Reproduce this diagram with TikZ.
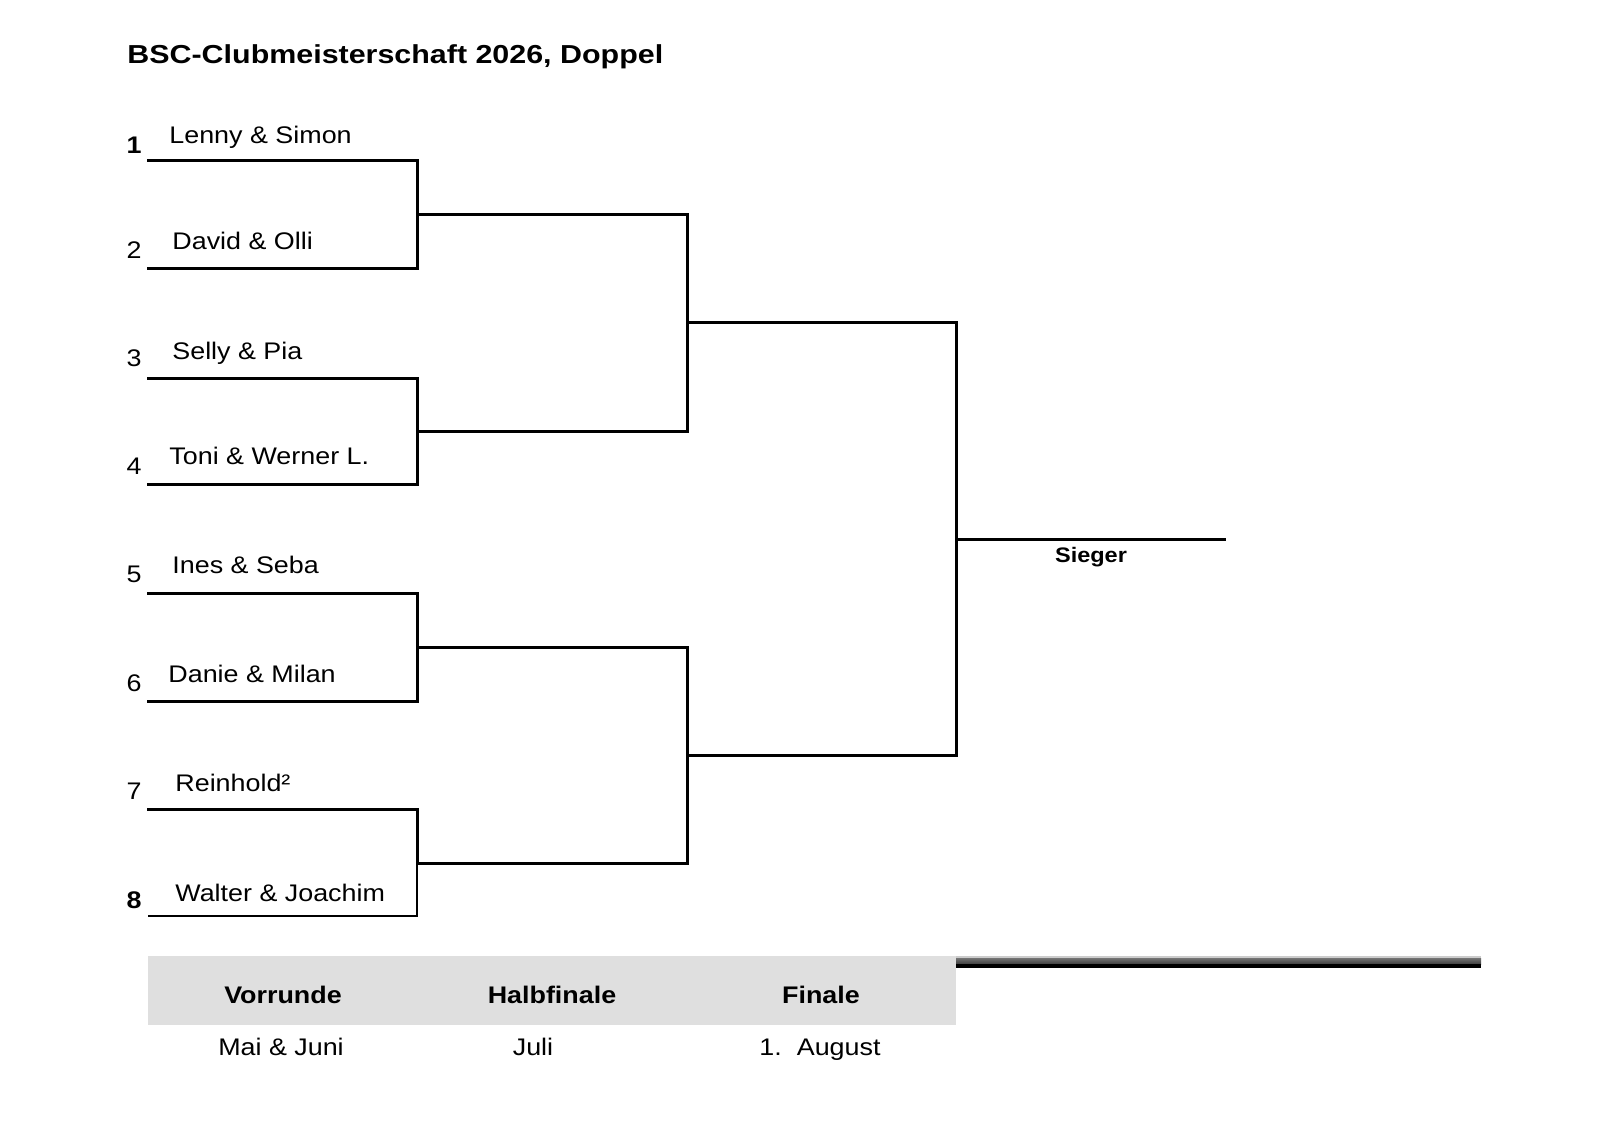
\documentclass[tikz,border=0pt]{standalone}
\usepackage{fontspec}
\setmainfont{Liberation Sans}[FakeStretch=1.12]
\newfontfamily\titlefont{Liberation Sans}[FakeStretch=1.17]
\begin{document}
\begin{tikzpicture}[x=0.5pt,y=-0.5pt,
  bline/.style={line width=1.5pt,line cap=rect},
  tline/.style={line width=0.75pt},
  nametxt/.style={anchor=base west,inner sep=0pt,font=\fontsize{12}{14}\selectfont},
  numtxt/.style={anchor=base,inner sep=0pt,font=\fontsize{12}{14}\selectfont},
  numbold/.style={numtxt,font=\fontsize{12}{14}\selectfont\bfseries},
  headtxt/.style={anchor=base,inner sep=0pt,font=\fontsize{12}{14}\selectfont\bfseries},
  datetxt/.style={anchor=base,inner sep=0pt,font=\fontsize{12}{14}\selectfont}]
\useasboundingbox[fill=white] (0,0) rectangle (1600,1131);
% title
\node[anchor=base west,inner sep=0pt,font=\titlefont\fontsize{13}{15}\selectfont\bfseries] (title) at (127,63) {BSC-Clubmeisterschaft 2026, Doppel};
% coordinates of bracket
\coordinate (l1) at (148,160); \coordinate (r1) at (417,160);
\coordinate (l2) at (148,268); \coordinate (r2) at (417,268);
\coordinate (l3) at (148,378); \coordinate (r3) at (417,378);
\coordinate (l4) at (148,484); \coordinate (r4) at (417,484);
\coordinate (l5) at (148,593); \coordinate (r5) at (417,593);
\coordinate (l6) at (148,701); \coordinate (r6) at (417,701);
\coordinate (l7) at (148,809); \coordinate (r7) at (417,809);
\coordinate (l8) at (148,916); \coordinate (r8) at (417,916);
\coordinate (m1) at (417,214); \coordinate (h1) at (687,214);
\coordinate (m2) at (417,431); \coordinate (h2) at (687,431);
\coordinate (m3) at (417,647); \coordinate (h3) at (687,647);
\coordinate (m4) at (417,863); \coordinate (h4) at (687,863);
\coordinate (s1) at (687,322); \coordinate (f1) at (956,322);
\coordinate (s2) at (687,755); \coordinate (f2) at (956,755);
\coordinate (w) at (956,539); \coordinate (we) at (1224,539);
% first round
\draw[bline] (l1) -- (r1) -- (r2) -- (l2);
\draw[bline] (l3) -- (r3) -- (r4) -- (l4);
\draw[bline] (l5) -- (r5) -- (r6) -- (l6);
\draw[bline] (l7) -- (r7) -- (m4);
\draw[tline] (m4) -- (r8) -- (l8);
\draw[bline] (m1) -- (h1); \draw[bline] (m2) -- (h2);
\draw[bline] (m3) -- (h3); \draw[bline] (m4) -- (h4);
% semi
\draw[bline] (h1) -- (h2); \draw[bline] (h3) -- (h4);
\draw[bline] (s1) -- (f1); \draw[bline] (s2) -- (f2);
% final
\draw[bline] (f1) -- (f2);
\draw[bline] (w) -- (we);
\node[anchor=base,inner sep=0pt,font=\fontsize{10.5}{12}\selectfont\bfseries] (sieger) at (1091,562) {Sieger};
% names
\node[nametxt] (n1) at (169,143) {Lenny \& Simon};
\node[nametxt] (n2) at (172,249) {David \& Olli};
\node[nametxt] (n3) at (172,359) {Selly \& Pia};
\node[nametxt] (n4) at (169,464) {Toni \& Werner L.};
\node[nametxt] (n5) at (172,573) {Ines \& Seba};
\node[nametxt] (n6) at (168,682) {Danie \& Milan};
\node[nametxt] (n7) at (175,791) {Reinhold²};
\node[nametxt] (n8) at (175,901) {Walter \& Joachim};
% seeds
\node[numbold] (k1) at (134,153) {1};
\node[numtxt] (k2) at (134,258) {2};
\node[numtxt] (k3) at (134,366) {3};
\node[numtxt] (k4) at (134,474) {4};
\node[numtxt] (k5) at (134,582) {5};
\node[numtxt] (k6) at (134,691) {6};
\node[numtxt] (k7) at (134,799) {7};
\node[numbold] (k8) at (134,908) {8};
% bottom table
\fill[black!12.5] (148,956) rectangle (956,1025);
\shade[top color=black!55,bottom color=black!75] (956,958) rectangle (1481,964);
\fill[black!20] (956,956) rectangle (1481,958);
\fill[black] (956,964) rectangle (1481,968);
\node[headtxt] (r1h) at (283,1003) {Vorrunde};
\node[headtxt] (r2h) at (552,1003) {Halbfinale};
\node[headtxt] (r3h) at (821,1003) {Finale};
\node[datetxt] (d1) at (281,1055) {Mai \& Juni};
\node[datetxt] (d2) at (533,1055) {Juli};
\node[datetxt] (d3) at (820,1055) {1.\ \ August};
\end{tikzpicture}
\end{document}
